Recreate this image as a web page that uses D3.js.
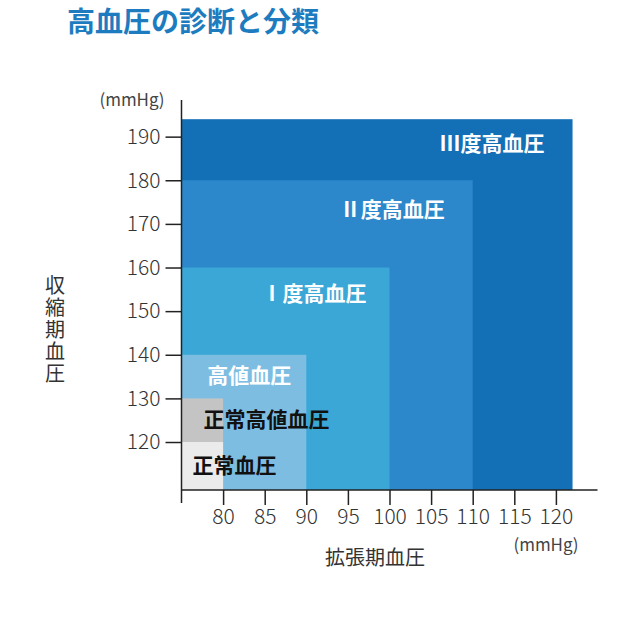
<!DOCTYPE html>
<html>
<head>
<meta charset="utf-8">
<script src="https://cdn.jsdelivr.net/npm/d3@7"></script>
<style>
body { margin: 0; background: #fff; }
text { font-family: "Noto Sans CJK JP", "Noto Sans", sans-serif; }
</style>
</head>
<body>
<script>
var width = 630;
var height = 630;

// grades, drawn biggest first
var grades = ["Ⅲ度高血圧", "Ⅱ度高血圧", "Ⅰ度高血圧", "高値血圧", "正常高値血圧", "正常血圧"];
var systolicTop = [194, 180, 160, 140, 130, 120];
var diastolicRight = [122, 110, 100, 90, 80, 80];
var colors = ["#1470b6", "#2c87cb", "#3aa7d7", "#7dbde2", "#c4c4c4", "#ebebeb"];
var labelColors = ["#fff", "#fff", "#fff", "#fff", "#111", "#111"];

var yTicks = [120, 130, 140, 150, 160, 170, 180, 190];
var xTicks = [80, 85, 90, 95, 100, 105, 110, 115, 120];

var svg = d3.select("body")
    .append("svg")
    .attr("width", width)
    .attr("height", height);

var x = d3.scaleLinear().domain([75, 125]).range([181.5, 597.5]);
var y = d3.scaleLinear().domain([109, 198.4]).range([490, 100]);

svg.append("text")
    .attr("x", 67)
    .attr("y", 32)
    .attr("font-size", 28)
    .attr("font-weight", "bold")
    .attr("fill", "#1d7cc0")
    .text("高血圧の診断と分類");

// zones
svg.selectAll("rect.zone")
    .data(grades)
    .enter()
    .append("rect")
    .attr("class", "zone")
    .attr("x", x(75))
    .attr("y", function(d, i) { return y(systolicTop[i]); })
    .attr("width", function(d, i) { return x(diastolicRight[i]) - x(75); })
    .attr("height", function(d, i) { return y(109) - y(systolicTop[i]); })
    .attr("fill", function(d, i) { return colors[i]; });

// labels: top three right aligned, the rest left aligned
var labelDx = [-28, -28, -23, -15, 22, 11];
var labelDy = [24, 29, 26, 21, 21, 24];
svg.selectAll("text.zone")
    .data(grades)
    .enter()
    .append("text")
    .attr("class", "zone")
    .attr("x", function(d, i) { return i < 4 ? x(diastolicRight[i]) + labelDx[i] : x(75) + labelDx[i]; })
    .attr("y", function(d, i) { return y(systolicTop[i]) + labelDy[i]; })
    .attr("dy", "0.35em")
    .attr("text-anchor", function(d, i) { return i < 4 ? "end" : "start"; })
    .attr("font-size", 21)
    .attr("font-weight", "bold")
    .attr("fill", function(d, i) { return labelColors[i]; })
    .text(function(d) { return d; });

// axes
var yAxis = d3.axisLeft(y).tickValues(yTicks).tickSize(16).tickPadding(5).tickSizeOuter(0);
var xAxis = d3.axisBottom(x).tickValues(xTicks).tickSize(15).tickPadding(4).tickSizeOuter(0);

var gy = svg.append("g").attr("transform", "translate(" + x(75) + ",0)").call(yAxis);
var gx = svg.append("g").attr("transform", "translate(0," + y(109) + ")").call(xAxis);
gy.select(".domain").remove();
gx.select(".domain").remove();

svg.selectAll(".tick line").attr("stroke", "#222").attr("stroke-width", 1.5);
svg.selectAll(".tick text")
    .attr("font-family", "'Noto Sans CJK JP', sans-serif")
    .attr("font-size", 21)
    .attr("font-weight", 300)
    .attr("fill", "#333");

svg.append("line")
    .attr("x1", x(75)).attr("x2", x(75))
    .attr("y1", y(198.4)).attr("y2", y(109) + 13)
    .attr("stroke", "#222").attr("stroke-width", 1.5);
svg.append("line")
    .attr("x1", x(75)).attr("x2", x(125))
    .attr("y1", y(109)).attr("y2", y(109))
    .attr("stroke", "#222").attr("stroke-width", 1.5);

// units and titles
svg.append("text")
    .attr("x", 132).attr("y", 100).attr("dy", "0.35em")
    .attr("text-anchor", "middle")
    .attr("font-size", 17).attr("fill", "#444")
    .text("(mmHg)");
svg.append("text")
    .attr("x", 546).attr("y", 545).attr("dy", "0.35em")
    .attr("text-anchor", "middle")
    .attr("font-size", 17).attr("fill", "#444")
    .text("(mmHg)");
svg.append("text")
    .attr("x", 375).attr("y", 558).attr("dy", "0.35em")
    .attr("text-anchor", "middle")
    .attr("font-size", 20).attr("fill", "#333")
    .text("拡張期血圧");

svg.append("text")
    .attr("x", 55)
    .attr("y", 275)
    .attr("writing-mode", "vertical-rl")
    .attr("letter-spacing", 2)
    .attr("font-size", 20)
    .attr("fill", "#333")
    .text("収縮期血圧");
</script>
</body>
</html>
